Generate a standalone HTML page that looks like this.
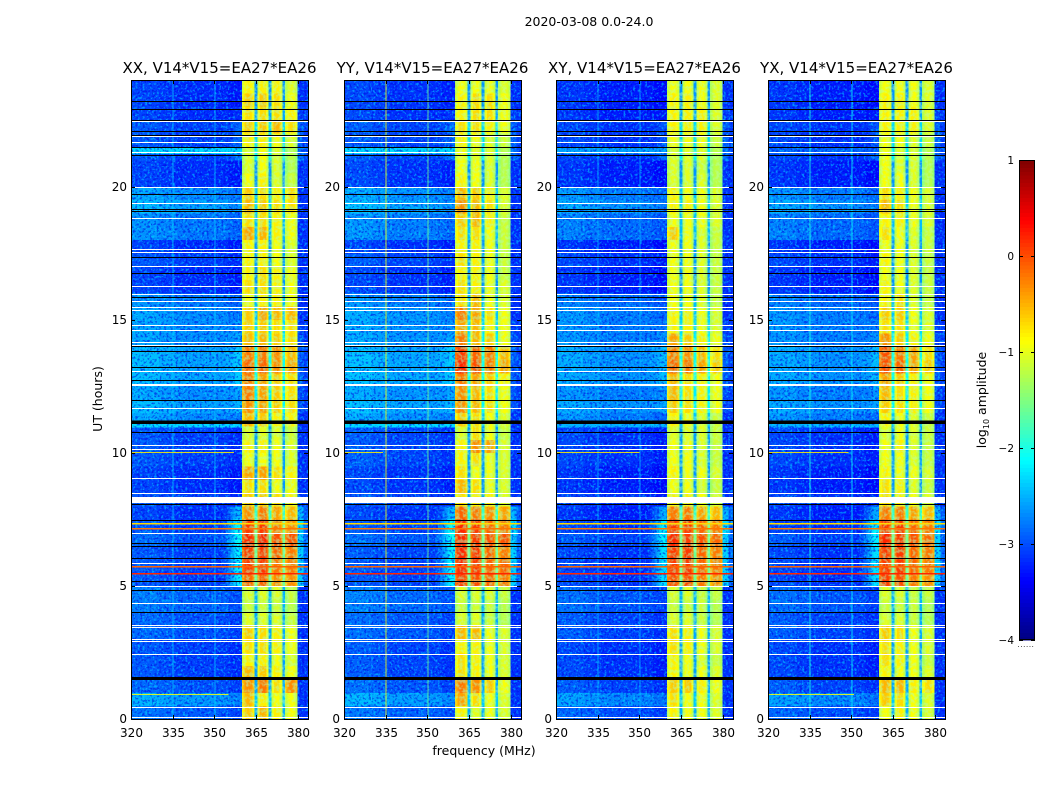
<!DOCTYPE html>
<html>
<head>
<meta charset="utf-8">
<title>Spectrogram 2020-03-08</title>
<style>
html,body{margin:0;padding:0;background:#fff;width:1050px;height:800px;overflow:hidden}
svg{display:block}
text{font-family:"DejaVu Sans","Liberation Sans",sans-serif;fill:#000}
.tick{font-size:12px}
.title{font-size:15px}
</style>
</head>
<body>
<svg id="chart" width="1050" height="800" viewBox="0 0 1050 800" xmlns="http://www.w3.org/2000/svg">
  <defs>
    <filter id="grain-light" x="0" y="0" width="100%" height="100%">
      <feTurbulence type="fractalNoise" baseFrequency="0.42" numOctaves="2" seed="4"/>
      <feColorMatrix type="matrix" values="0 0 0 0 0  0 0 0 0 0.72  0 0 0 0 1  5 0 0 0 -2.55"/>
    </filter>
    <filter id="grain-dark" x="0" y="0" width="100%" height="100%">
      <feTurbulence type="fractalNoise" baseFrequency="0.42" numOctaves="2" seed="11"/>
      <feColorMatrix type="matrix" values="0 0 0 0 0  0 0 0 0 0  0 0 0 0 0.72  5 0 0 0 -2.55"/>
    </filter>
    <filter id="grain-green" x="0" y="0" width="100%" height="100%">
      <feTurbulence type="fractalNoise" baseFrequency="0.3" numOctaves="2" seed="23"/>
      <feColorMatrix type="matrix" values="0 0 0 0 0.45  0 0 0 0 1  0 0 0 0 0.45  4 0 0 0 -1.7"/>
    </filter>
  </defs>
  <text x="589" y="26" text-anchor="middle" font-size="12.5">2020-03-08 0.0-24.0</text>
  <text x="484" y="755" text-anchor="middle" font-size="12.5">frequency (MHz)</text>
  <text transform="translate(102,399) rotate(-90)" text-anchor="middle" font-size="12.5">UT (hours)</text>
  <text transform="translate(986,400) rotate(-90)" text-anchor="middle" font-size="12.5">log<tspan font-size="8" dy="3">10</tspan><tspan dy="-3"> amplitude</tspan></text>
  <text x="1026" y="647" text-anchor="middle" font-size="7" fill="#777" letter-spacing="0.6">......</text>
  <g id="panels"></g>
  <g id="colorbar"></g>
</svg>
<script>
// ---- Data (log10 amplitude) ----
const panelTitles = ["XX, V14*V15=EA27*EA26","YY, V14*V15=EA27*EA26","XY, V14*V15=EA27*EA26","YX, V14*V15=EA27*EA26"];
const freqTicks = [320,335,350,365,380];
const hourTicks = [0,5,10,15,20];
const colorbarTicks = [-4,-3,-2,-1,0,1];

// Background level per half-hour row (0-24 UT)
const backgroundLevels = [-2.85,-2.55,-2.9,-3.0,-3.0,-3.0,-2.9,-2.9,-2.8,-2.8,-3.0,-3.0,-3.0,-2.9,-3.0,-3.1,-3.0,-3.1,-3.1,-3.0,-3.0,-3.0,-2.6,-2.5,-2.6,-2.5,-2.5,-2.5,-2.6,-2.6,-2.6,-2.7,-3.1,-3.1,-3.0,-3.1,-2.7,-2.7,-2.5,-2.6,-3.1,-3.1,-3.0,-3.0,-3.0,-3.1,-3.1,-3.1];
// Background offset per panel
const panelBackgroundOffset = [0,0.03,-0.08,-0.08];
// Background offset per 5 MHz bin from 320 to 360
const backgroundTilt = [0.05,0.05,-0.02,-0.08,-0.08,-0.08,-0.1,-0.18];
// Cyan leak next to the band, per half-hour row
const leakLevels = [0,0,0,0,0,0,0,0,0,0,1,1,1,1,1.1,0.8,0,0,0,0,0,0,0,0.2,0.2,0.3,0.3,0.3,0.2,0.1,0,0,0,0,0,0,0,0,0,0,0,0,0.4,0.3,0.3,0.1,0,0];
const leakShape = [0,0,0.1,0.1,0.2,0.3,0.4,0.5,0.6,0.7,0.8,0.9,1,1,1,1];
const bandShape = [-0.3,-0.15,-0.05,0,0,0,0,-0.05,-0.15,-0.3];
const gapLevel = -2.6;
const outerLevel = -3.15;

// Sub-band levels per half-hour row
const xxBand1 = [-0.6,-0.5,-0.3,-0.5,-0.8,-0.7,-0.6,-1.0,-1.1,-1.0,-0.1,0.1,0.1,0.2,0.1,-0.3,-0.6,-0.7,-0.4,-0.9,-0.8,-1.0,-0.5,-0.3,-0.2,-0.2,-0.1,-0.2,-0.5,-0.6,-0.6,-0.9,-0.7,-0.8,-0.8,-0.8,-0.4,-0.7,-0.5,-0.6,-0.9,-1.0,-1.0,-0.8,-0.6,-0.7,-0.6,-0.8];
const xxBand2 = [-0.5,-0.8,-0.2,-0.6,-0.8,-0.7,-0.7,-1.0,-1.1,-1.0,-0.1,0.1,0.1,0.2,0.1,-0.2,-0.6,-0.7,-0.4,-0.9,-0.8,-1.0,-0.6,-0.4,-0.4,-0.4,-0.1,-0.2,-0.5,-0.6,-0.4,-0.8,-0.7,-0.7,-0.8,-0.8,-0.5,-0.7,-0.6,-0.7,-0.8,-0.9,-0.9,-0.8,-0.6,-0.7,-0.6,-0.8];
const xxBand3 = [-0.8,-0.9,-0.7,-0.8,-0.9,-0.8,-0.8,-1.0,-1.1,-1.0,-0.3,-0.2,-0.1,0.0,-0.2,-0.4,-0.7,-0.9,-0.7,-0.9,-0.9,-1.0,-0.8,-0.6,-0.6,-0.6,-0.3,-0.3,-0.6,-0.7,-0.5,-0.8,-0.8,-0.8,-0.9,-0.9,-0.8,-0.8,-0.7,-0.8,-1.0,-1.0,-1.0,-0.9,-0.5,-0.7,-0.7,-0.8];
const xxBand4 = [-0.9,-0.9,-0.3,-0.9,-1.0,-0.9,-0.9,-1.1,-1.2,-1.1,-0.3,-0.2,-0.2,0.0,-0.3,-0.5,-0.8,-0.9,-0.8,-1.0,-1.0,-1.1,-0.8,-0.7,-0.7,-0.7,-0.4,-0.5,-0.7,-0.7,-0.5,-0.9,-0.9,-0.9,-1.0,-1.0,-0.9,-0.9,-0.7,-0.7,-1.1,-1.2,-1.2,-1.0,-0.7,-0.8,-0.9,-1.0];

const yyBand1 = [-0.8,-0.4,-0.2,-0.7,-0.7,-0.8,-0.5,-1.0,-1.1,-1.0,0.1,0.2,0.2,0.2,0.2,-0.1,-0.7,-0.5,-0.7,-0.8,-0.8,-1.0,-0.6,-0.3,-0.3,-0.2,0.2,0.1,-0.2,-0.4,-0.2,-0.7,-0.7,-0.8,-0.7,-0.8,-0.7,-0.6,-0.3,-0.5,-0.8,-0.9,-0.9,-0.8,-0.7,-0.8,-0.8,-0.9];
const yyBand2 = [-1.0,-0.7,-0.3,-0.8,-0.8,-0.8,-0.5,-1.0,-1.1,-1.0,0.0,0.1,0.1,0.1,0.1,-0.2,-0.8,-0.7,-0.9,-0.7,-0.3,-0.7,-0.7,-0.5,-0.5,-0.4,0.0,-0.1,-0.5,-0.5,-0.4,-0.5,-0.8,-0.8,-0.8,-0.8,-0.7,-0.5,-0.5,-0.6,-0.9,-0.9,-1.0,-0.9,-0.7,-0.7,-0.7,-0.9];
const yyBand3 = [-0.9,-0.9,-0.6,-0.9,-0.9,-0.9,-0.9,-1.1,-1.1,-1.0,-0.1,-0.1,-0.1,0.0,-0.1,-0.3,-0.8,-0.9,-0.9,-0.9,-0.4,-0.9,-0.9,-0.7,-0.7,-0.6,-0.2,-0.2,-0.6,-0.8,-0.7,-0.9,-0.9,-0.9,-0.9,-0.9,-0.9,-0.8,-0.7,-0.8,-1.0,-1.0,-1.0,-1.0,-0.8,-0.7,-0.7,-0.9];
const yyBand4 = [-1.0,-1.0,-0.9,-1.0,-1.0,-1.0,-1.0,-1.2,-1.2,-1.1,-0.2,-0.1,-0.2,0.0,-0.2,-0.4,-1.0,-1.0,-1.0,-1.0,-1.0,-1.1,-1.0,-0.9,-0.9,-0.8,-0.4,-0.5,-0.9,-0.9,-0.9,-1.0,-1.0,-1.1,-1.1,-1.1,-1.1,-1.1,-1.0,-1.0,-1.2,-1.2,-1.2,-1.1,-0.9,-0.9,-0.9,-1.0];

const xyBand1 = [-0.8,-0.7,-0.6,-0.8,-0.8,-0.7,-0.7,-1.0,-1.1,-1.0,0.0,0.1,0.1,0.2,0.1,-0.2,-0.8,-0.9,-0.8,-0.9,-0.9,-1.0,-0.8,-0.6,-0.5,-0.5,-0.1,-0.2,-0.4,-0.8,-0.8,-0.9,-0.9,-0.9,-0.9,-0.9,-0.6,-0.9,-0.8,-0.8,-1.0,-1.0,-1.0,-0.9,-0.8,-0.8,-0.8,-0.9];
const xyBand2 = [-0.9,-0.9,-0.6,-0.9,-0.9,-0.8,-0.8,-1.0,-1.1,-1.0,0.0,0.1,0.1,0.1,0.1,-0.2,-0.8,-0.9,-0.9,-0.9,-0.9,-1.0,-0.9,-0.7,-0.7,-0.7,-0.2,-0.3,-0.6,-0.8,-0.8,-0.9,-0.9,-0.9,-0.9,-0.9,-0.9,-0.9,-0.8,-0.9,-1.0,-1.0,-1.0,-0.9,-0.8,-0.8,-0.8,-0.9];
const xyBand3 = [-0.9,-0.9,-0.8,-0.9,-1.0,-0.9,-0.9,-1.1,-1.1,-1.1,-0.2,-0.1,-0.1,0.0,-0.1,-0.4,-0.9,-1.0,-0.9,-1.0,-1.0,-1.0,-1.0,-0.8,-0.8,-0.8,-0.4,-0.5,-0.8,-0.9,-0.9,-1.0,-1.0,-1.0,-1.0,-1.0,-1.0,-0.9,-0.9,-0.9,-1.0,-1.1,-1.0,-0.9,-0.8,-0.8,-0.9,-0.9];
const xyBand4 = [-1.0,-1.0,-0.9,-1.0,-1.1,-1.0,-1.0,-1.2,-1.2,-1.1,-0.3,-0.2,-0.2,-0.1,-0.2,-0.5,-1.0,-1.1,-1.0,-1.1,-1.1,-1.1,-1.1,-0.9,-0.9,-0.9,-0.6,-0.7,-0.9,-1.0,-1.0,-1.1,-1.1,-1.1,-1.1,-1.1,-1.1,-1.0,-1.0,-1.0,-1.2,-1.2,-1.2,-1.1,-1.0,-1.0,-1.0,-1.0];

const yxBand1 = [-0.9,-0.6,-0.5,-0.8,-0.7,-0.7,-0.6,-1.0,-1.1,-1.0,0.1,0.1,0.1,0.2,0.1,-0.2,-0.7,-0.7,-0.8,-0.9,-0.9,-1.0,-0.8,-0.6,-0.5,-0.4,0.0,0.0,-0.3,-0.7,-0.6,-0.8,-0.8,-0.9,-0.8,-0.9,-0.7,-0.8,-0.5,-0.7,-0.9,-0.9,-0.9,-0.9,-0.8,-0.8,-0.8,-0.9];
const yxBand2 = [-0.8,-0.7,-0.5,-0.9,-0.8,-0.8,-0.7,-1.0,-1.1,-1.0,0.0,0.1,0.1,0.1,0.1,-0.2,-0.8,-0.8,-0.9,-0.9,-0.8,-0.9,-0.9,-0.7,-0.7,-0.6,-0.1,-0.2,-0.6,-0.7,-0.6,-0.7,-0.9,-0.9,-0.9,-0.9,-0.9,-0.8,-0.7,-0.8,-0.9,-1.0,-1.0,-0.9,-0.8,-0.8,-0.8,-0.9];
const yxBand3 = [-0.9,-0.9,-0.8,-0.9,-0.9,-0.9,-0.9,-1.1,-1.1,-1.1,-0.2,-0.1,-0.1,0.0,-0.1,-0.4,-0.9,-1.0,-0.9,-1.0,-1.0,-1.0,-1.0,-0.8,-0.8,-0.8,-0.4,-0.4,-0.8,-0.9,-0.9,-1.0,-1.0,-1.0,-1.0,-1.0,-1.0,-0.9,-0.9,-0.9,-1.0,-1.0,-1.0,-1.0,-0.8,-0.8,-0.9,-0.9];
const yxBand4 = [-1.0,-1.0,-0.7,-1.0,-1.1,-1.0,-1.0,-1.2,-1.2,-1.1,-0.3,-0.2,-0.2,-0.1,-0.2,-0.5,-1.0,-1.1,-1.0,-1.1,-1.1,-1.1,-1.1,-0.9,-0.9,-0.9,-0.6,-0.7,-0.9,-1.0,-1.0,-1.1,-1.1,-1.1,-1.1,-1.1,-1.1,-1.0,-1.0,-1.0,-1.2,-1.2,-1.2,-1.1,-1.0,-1.0,-1.0,-1.0];

// Flagged rows (hours)
const whiteLineHours = [22.47,21.9,21.66,21.3,19.97,19.7,19.37,18.8,17.64,17.55,17.0,16.25,15.98,15.69,15.47,15.37,14.8,14.6,14.15,14.06,13.08,12.58,12.53,11.68,10.29,10.15,9.05,8.5,6.98,5.86,5.0,4.36,3.52,3.46,3.0,2.92,2.45,0.46,0.07];
const blackLineHours = [23.2,22.9,22.5,22.1,21.95,21.5,21.2,19.73,19.14,19.07,17.34,16.74,15.84,14.01,13.83,13.23,12.73,11.99,10.78,8.09,7.46,6.61,6.48,6.06,5.17,4.84,4.02];
const whiteBandStart = [8.11];
const whiteBandEnd = [8.34];
const blackBandStart = [1.46,11.08];
const blackBandEnd = [1.58,11.22];
const brightBandStart = [21.22,10.95];
const brightBandEnd = [21.45,11.08];
const brightBandLevelXX = [-2.3,-2.3];
const brightBandLevelYY = [-2.3,-2.3];
const brightBandLevelXY = [-2.6,-2.5];
const brightBandLevelYX = [-2.9,-2.5];
const brightBandLevels = [brightBandLevelXX,brightBandLevelYY,brightBandLevelXY,brightBandLevelYX];
// Hot rows across all frequencies
const hotLineHours = [7.36,7.17,5.75,5.48];
const hotLineLevels = [-0.7,-0.2,-0.1,0.2];
// Partial RFI rows: end frequency per panel (320 = absent)
const rfiRowHours = [10.03,0.95];
const rfiRowLevels = [-0.8,-0.9];
const rfiRowEndXX = [357,355];
const rfiRowEndYY = [334,320];
const rfiRowEndXY = [350,320];
const rfiRowEndYX = [349,351];
const rfiRowEnds = [rfiRowEndXX,rfiRowEndYY,rfiRowEndXY,rfiRowEndYX];
// Vertical RFI channels: level per panel
const rfiChannelFreq = [335,350];
const rfiChannelLevelXX = [-2.4,-2.4];
const rfiChannelLevelYY = [-0.9,-1.6];
const rfiChannelLevelXY = [-2.5,-2.5];
const rfiChannelLevelYX = [-2.0,-2.1];
const rfiChannelLevels = [rfiChannelLevelXX,rfiChannelLevelYY,rfiChannelLevelXY,rfiChannelLevelYX];

const panelBands = [
  [xxBand1,xxBand2,xxBand3,xxBand4],
  [yyBand1,yyBand2,yyBand3,yyBand4],
  [xyBand1,xyBand2,xyBand3,xyBand4],
  [yxBand1,yxBand2,yxBand3,yxBand4]
];
const panelLeft = [131,344,556,768];

// ---- Layout & scales ----
const NS = "http://www.w3.org/2000/svg";
const panelWidth = 177, plotTop = 80, plotBottom = 719;
const fMin = 320, fMax = 383.7;
function xScale(left, f){ return left + (f-fMin)/(fMax-fMin)*panelWidth; }
function yScale(h){ return plotBottom - h/24*(plotBottom-plotTop); }
function jet(v){
  const t = Math.max(0,Math.min(1,(v+4)/5));
  const c = x => Math.round(255*Math.max(0,Math.min(1,1.5-Math.abs(4*t-x))));
  return "rgb("+c(3)+","+c(2)+","+c(1)+")";
}
function el(tag, attrs){
  const e = document.createElementNS(NS, tag);
  for (const k in attrs) e.setAttribute(k, attrs[k]);
  return e;
}
const bandStart = [360,365.5,370.5,375.5];
const bandEnd = [364.5,369.5,374.5,380];
function level(p, row, f){
  for (let b=0;b<4;b++){
    if (f>=bandStart[b] && f<bandEnd[b]){
      const n = Math.round((bandEnd[b]-bandStart[b])*2);
      const i = Math.floor((f-bandStart[b])*2);
      const s = bandShape[Math.min(9,Math.round(i*9/Math.max(1,n-1)))];
      return panelBands[p][b][row] + s;
    }
  }
  if (f>=360 && f<380) return gapLevel + (backgroundLevels[row]+3)*0.5 + leakLevels[row];
  if (f>=380) {
    const fade = f<382 ? 0.8 : 0.3;
    return outerLevel + leakLevels[row]*fade;
  }
  let v = backgroundLevels[row] + panelBackgroundOffset[p] + backgroundTilt[Math.floor((f-320)/5)];
  if (f>=352 && f<360) v += leakLevels[row]*leakShape[Math.floor((f-352)*2)];
  return v;
}
const root = document.getElementById("panels");
panelLeft.forEach((left,p)=>{
  const g = el("g",{});
  
  
  root.appendChild(g);
  const clipId = "clip"+p;
  const cp = el("clipPath",{id:clipId});
  cp.appendChild(el("rect",{x:left,y:plotTop,width:panelWidth,height:plotBottom-plotTop}));
  g.appendChild(cp);
  const grainClipId = "grainclip"+p;
  const gcp = el("clipPath",{id:grainClipId});
  gcp.appendChild(el("rect",{x:left,y:plotTop,width:xScale(left,360)-left,height:plotBottom-plotTop}));
  gcp.appendChild(el("rect",{x:xScale(left,380),y:plotTop,width:left+panelWidth-xScale(left,380),height:plotBottom-plotTop}));
  g.appendChild(gcp);
  const bandClipId = "bandclip"+p;
  const bcp = el("clipPath",{id:bandClipId});
  bcp.appendChild(el("rect",{x:xScale(left,360),y:plotTop,width:xScale(left,380)-xScale(left,360),height:plotBottom-plotTop}));
  g.appendChild(bcp);
  const cells = el("g",{"shape-rendering":"crispEdges","clip-path":"url(#"+clipId+")"});
  
  
  g.appendChild(cells);
  // cells
  const edges = [];
  for (let f=320;f<352;f+=2) edges.push(f);
  for (let f=352;f<384;f+=0.5) edges.push(f);
  edges.push(384);
  for (let r=0;r<48;r++){
    const y1 = yScale(r/2), y0 = yScale((r+1)/2);
    for (let c=0;c<edges.length-1;c++){
      const x0 = xScale(left,edges[c]), x1 = xScale(left,edges[c+1]);
      const cell = el("rect",{x:x0.toFixed(2),y:y0.toFixed(2),width:(x1-x0+0.4).toFixed(2),height:(y1-y0+0.4).toFixed(2),fill:jet(level(p,r,edges[c]))});
      
      
      cells.appendChild(cell);
    }
  }
  // bright bands
  brightBandStart.forEach((h,i)=>{
    const y0 = yScale(brightBandEnd[i]), y1 = yScale(h);
    const b = el("rect",{x:left,y:y0,width:xScale(left,360)-left,height:y1-y0,fill:jet(brightBandLevels[p][i])});
    
    
    cells.appendChild(b);
  });
  // grain texture (background regions)
  const grainA = el("rect",{x:left,y:plotTop,width:panelWidth,height:plotBottom-plotTop,filter:"url(#grain-light)",opacity:"0.55"});
  
  
  const grainB = el("rect",{x:left,y:plotTop,width:panelWidth,height:plotBottom-plotTop,filter:"url(#grain-dark)",opacity:"0.55"});
  
  
  const grainGroup = el("g",{"clip-path":"url(#"+grainClipId+")"});
  grainGroup.appendChild(grainA);
  grainGroup.appendChild(grainB);
  g.appendChild(grainGroup);
  // green mottling inside the band
  const grainC = el("rect",{x:left,y:plotTop,width:panelWidth,height:plotBottom-plotTop,filter:"url(#grain-green)",opacity:"0.5"});
  
  
  const bandGrainGroup = el("g",{"clip-path":"url(#"+bandClipId+")"});
  bandGrainGroup.appendChild(grainC);
  g.appendChild(bandGrainGroup);
  // overlay lines
  const lines = el("g",{"clip-path":"url(#"+clipId+")","shape-rendering":"crispEdges"});
  
  
  g.appendChild(lines);
  rfiChannelFreq.forEach((f,i)=>{
    const l = el("rect",{x:xScale(left,f),y:plotTop,width:1,height:plotBottom-plotTop,fill:jet(rfiChannelLevels[p][i]),opacity:"0.8"});
    
    
    lines.appendChild(l);
  });
  rfiRowHours.forEach((h,i)=>{
    const endF = rfiRowEnds[p][i];
    const l = el("rect",{x:left,y:Math.round(yScale(h)),width:xScale(left,endF)-left,height:1,fill:jet(rfiRowLevels[i]),opacity:"0.85"});
    
    
    lines.appendChild(l);
  });
  hotLineHours.forEach((h,i)=>{
    const l = el("rect",{x:left,y:Math.round(yScale(h)),width:panelWidth,height:1.5,fill:jet(hotLineLevels[i])});
    
    
    lines.appendChild(l);
  });
  whiteLineHours.forEach(h=>{
    const l = el("rect",{x:left,y:Math.round(yScale(h)),width:panelWidth,height:1,fill:"#fff"});
    
    
    lines.appendChild(l);
  });
  blackLineHours.forEach(h=>{
    const l = el("rect",{x:left,y:Math.round(yScale(h)),width:panelWidth,height:1,fill:"#000"});
    
    
    lines.appendChild(l);
  });
  whiteBandStart.forEach((h,i)=>{
    const y0 = yScale(whiteBandEnd[i]), y1 = yScale(h);
    const l = el("rect",{x:left,y:y0,width:panelWidth,height:y1-y0,fill:"#fff"});
    
    
    lines.appendChild(l);
  });
  blackBandStart.forEach((h,i)=>{
    const y0 = yScale(blackBandEnd[i]), y1 = yScale(h);
    const l = el("rect",{x:left,y:y0,width:panelWidth,height:y1-y0,fill:"#000"});
    
    
    lines.appendChild(l);
  });
  // frame
  const frame = el("rect",{x:left+0.5,y:plotTop+0.5,width:panelWidth,height:plotBottom-plotTop,fill:"none",stroke:"#000","stroke-width":1});
  
  
  g.appendChild(frame);
  // titles
  const title = el("text",{x:left+panelWidth/2,y:73,"text-anchor":"middle","class":"title"});
  title.textContent = panelTitles[p];
  
  
  g.appendChild(title);
  // x ticks
  freqTicks.forEach(f=>{
    const x = Math.round(xScale(left,f))+0.5;
    const t = el("path",{d:"M"+x+" "+plotBottom+"v-4M"+x+" "+plotTop+"v4",stroke:"#000","stroke-width":1,fill:"none"});
    
    
    g.appendChild(t);
    const lab = el("text",{x:x,y:737,"text-anchor":"middle","class":"tick"});
    lab.textContent = f;
    
    
    g.appendChild(lab);
  });
  // y ticks
  hourTicks.forEach(h=>{
    const y = Math.round(yScale(h))+0.5;
    const t = el("path",{d:"M"+left+" "+y+"h4M"+(left+panelWidth)+" "+y+"h-4",stroke:"#000","stroke-width":1,fill:"none"});
    
    
    g.appendChild(t);
    const lab = el("text",{x:left-4,y:y+3.5,"text-anchor":"end","class":"tick"});
    lab.textContent = h;
    
    
    g.appendChild(lab);
  });
});
// ---- Colorbar ----
const cb = document.getElementById("colorbar");
const cbLeft = 1019, cbWidth = 16, cbTop = 160, cbBottom = 640;
function cbScale(v){ return cbBottom - (v+4)/5*(cbBottom-cbTop); }
for (let i=0;i<128;i++){
  const v0 = -4 + 5*i/128, v1 = -4 + 5*(i+1)/128;
  const s = el("rect",{x:cbLeft,y:cbScale(v1),width:cbWidth,height:cbScale(v0)-cbScale(v1)+0.5,fill:jet((v0+v1)/2),"shape-rendering":"crispEdges"});
  
  
  cb.appendChild(s);
}
const cbFrame = el("rect",{x:cbLeft+0.5,y:cbTop+0.5,width:cbWidth-1,height:cbBottom-cbTop-1,fill:"none",stroke:"#000"});


cb.appendChild(cbFrame);
colorbarTicks.forEach(v=>{
  const y = Math.round(cbScale(v))+0.5;
  const t = el("path",{d:"M"+cbLeft+" "+y+"h4M"+(cbLeft+cbWidth)+" "+y+"h-4",stroke:"#000",fill:"none"});
  
  
  cb.appendChild(t);
  const lab = el("text",{x:1014,y:y+3.5,"text-anchor":"end","font-size":"10.5"});
  lab.textContent = (v<0?"\u2212":"")+Math.abs(v);
  
  
  cb.appendChild(lab);
});
</script>
</body>
</html>
